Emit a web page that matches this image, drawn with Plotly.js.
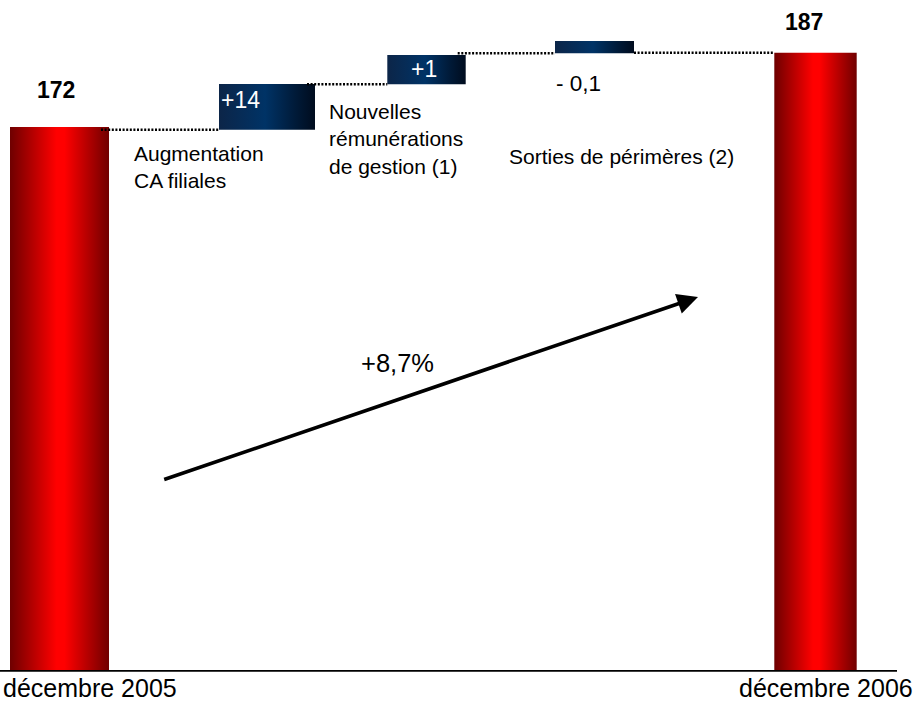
<!DOCTYPE html>
<html>
<head>
<meta charset="utf-8">
<script src="https://cdn.plot.ly/plotly-3.0.1.min.js"></script>
<style>
  html, body { margin: 0; padding: 0; background: #ffffff; }
  #chart { width: 918px; height: 703px; }
</style>
</head>
<body>
<div id="chart"></div>
<script>
// ---------- data ----------
const categories = ['décembre 2005', 'Augmentation CA filiales', 'Nouvelles rémunérations de gestion (1)', 'Sorties de périmètres (2)', 'décembre 2006'];
const values = [172, 14, 1, -0.1, 187];
const valueLabels = ['172', '+14', '+1', '- 0,1', '187'];
const categoryLabels = ['décembre 2005', 'Augmentation<br>CA filiales', 'Nouvelles<br>rémunérations<br>de gestion (1)', 'Sorties de périmères (2)', 'décembre 2006'];
const barKind = ['total', 'delta', 'delta', 'delta', 'total'];
// drawn extents read from the (not-to-scale) picture, in the picture's own vertical units
const barBottom = [0, 540.3, 585.7, 616.7, 0];
const barTop = [543, 586, 615, 629, 617.3];
const changeLabel = '+8,7%';

// ---------- layout config (positions / sizes / styles) ----------
const barX = [59.5, 267, 426.5, 594.5, 815.5];
const barW = [99, 96, 78.4, 79, 82.4];
const FONT = 'Liberation Sans, Arial, Helvetica, sans-serif';
const Y_MIN = -3, Y_MAX = 670;

const totIdx = [], delIdx = [];
barKind.forEach((k, i) => (k === 'total' ? totIdx : delIdx).push(i));
const pick = (arr, idx) => idx.map(i => arr[i]);

const traces = [];
traces.push({
  type: 'bar', name: 'totals',
  x: pick(barX, totIdx), width: pick(barW, totIdx),
  base: pick(barBottom, totIdx),
  y: totIdx.map(i => barTop[i] - barBottom[i]),
  customdata: pick(values, totIdx),
  marker: { color: '#ff0000', line: { width: 0 } },
  hoverinfo: 'skip'
});
traces.push({
  type: 'bar', name: 'changes',
  x: pick(barX, delIdx), width: pick(barW, delIdx),
  base: pick(barBottom, delIdx),
  y: delIdx.map(i => barTop[i] - barBottom[i]),
  customdata: pick(values, delIdx),
  marker: { color: '#003366', line: { width: 0 } },
  hoverinfo: 'skip'
});

// dotted connectors between consecutive bars
for (let i = 0; i < barX.length - 1; i++) {
  const level = (i < barX.length - 2) ? barBottom[i + 1] : barTop[i + 1];
  traces.push({
    type: 'scatter', mode: 'lines',
    x: [barX[i] + barW[i] / 2 - (i < 3 ? 8 : 0), barX[i + 1] - barW[i + 1] / 2],
    y: [level, level],
    line: { color: '#000000', width: 2.4, dash: '2px,1.6px' },
    hoverinfo: 'skip', showlegend: false
  });
}

// annotation placement config
const valuePos = [
  { x: 56, y: 580, xanchor: 'center', color: '#000', bold: true, size: 23 },
  { x: 220, y: 570.5, xanchor: 'left', color: '#fff', bold: false, size: 23 },
  { x: 423.5, y: 601, xanchor: 'center', color: '#fff', bold: false, size: 23 },
  { x: 555, y: 587, xanchor: 'left', color: '#000', bold: false, size: 22.5 },
  { x: 804, y: 648, xanchor: 'center', color: '#000', bold: true, size: 23 }
];
const catPos = [
  { x: 89.5, y: -17.5, xanchor: 'center', size: 25 },
  { x: 133, y: 502.7, xanchor: 'left', size: 21 },
  { x: 328, y: 530.6, xanchor: 'left', size: 21 },
  { x: 508, y: 513.5, xanchor: 'left', size: 21 },
  { x: 825.5, y: -17.5, xanchor: 'center', size: 25 }
];
const toPaperY = v => (v - Y_MIN) / (Y_MAX - Y_MIN);

const annotations = [];
valueLabels.forEach((t, i) => {
  const p = valuePos[i];
  annotations.push({
    xref: 'x', yref: 'y', x: p.x, y: p.y, xanchor: p.xanchor, yanchor: 'middle',
    text: p.bold ? '<b>' + t + '</b>' : t, showarrow: false, borderpad: 0,
    font: { family: FONT, size: p.size, color: p.color }
  });
});
categoryLabels.forEach((t, i) => {
  const p = catPos[i];
  const outside = p.y < Y_MIN;
  annotations.push({
    xref: 'x', yref: outside ? 'paper' : 'y', x: p.x, y: outside ? toPaperY(p.y) : p.y,
    xanchor: p.xanchor, yanchor: 'middle',
    align: 'left', text: t, showarrow: false, borderpad: 0,
    font: { family: FONT, size: p.size, color: '#000' }
  });
});
// trend arrow
annotations.push({
  xref: 'x', yref: 'y', axref: 'x', ayref: 'y',
  x: 698, y: 373, ax: 162.7, ay: 190,
  text: '', showarrow: true, arrowhead: 2, arrowsize: 1.15, arrowwidth: 3.6,
  arrowcolor: '#000000', standoff: 0, startstandoff: 0
});
annotations.push({
  xref: 'x', yref: 'y', x: 397, y: 307, xanchor: 'center', yanchor: 'middle',
  text: changeLabel, showarrow: false, borderpad: 0,
  font: { family: FONT, size: 25.5, color: '#000' }
});

const layout = {
  width: 918, height: 703,
  margin: { l: 0, r: 0, t: 0, b: 703 - (Y_MAX - Y_MIN), pad: 0 },
  paper_bgcolor: '#ffffff', plot_bgcolor: '#ffffff',
  showlegend: false, hovermode: false, barmode: 'overlay',
  xaxis: { range: [0, 918], visible: false, fixedrange: true },
  yaxis: { range: [Y_MIN, Y_MAX], visible: false, fixedrange: true },
  shapes: [{
    type: 'line', xref: 'x', yref: 'y', x0: 0, x1: 897, y0: -0.8, y1: -0.8,
    line: { color: '#000000', width: 1.8 }, layer: 'above'
  }],
  annotations: annotations
};

function addGradients(gd) {
  const svgNS = 'http://www.w3.org/2000/svg';
  const defs = gd.querySelector('svg.main-svg defs');
  if (!defs) return;
  const mk = (id, stops) => {
    const g = document.createElementNS(svgNS, 'linearGradient');
    g.setAttribute('id', id);
    g.setAttribute('x1', '0'); g.setAttribute('y1', '0');
    g.setAttribute('x2', '1'); g.setAttribute('y2', '0');
    stops.forEach(([o, c]) => {
      const s = document.createElementNS(svgNS, 'stop');
      s.setAttribute('offset', o); s.setAttribute('stop-color', c);
      g.appendChild(s);
    });
    defs.appendChild(g);
  };
  mk('gradRed', [[0, '#6e0000'], [0.47, '#ff0000'], [0.55, '#ff0000'], [1, '#700000']]);
  mk('gradBlue', [[0, '#0c2548'], [0.48, '#003366'], [0.8, '#001a38'], [1, '#000c1e']]);
  const barTraces = gd.querySelectorAll('.barlayer .trace.bars');
  const fills = ['url(#gradRed)', 'url(#gradBlue)'];
  barTraces.forEach((tr, i) => {
    tr.querySelectorAll('.point path').forEach(p => { p.style.fill = fills[i] || ''; });
  });
}

Plotly.newPlot('chart', traces, layout, { staticPlot: true, displayModeBar: false })
  .then(gd => addGradients(gd));
</script>
</body>
</html>
